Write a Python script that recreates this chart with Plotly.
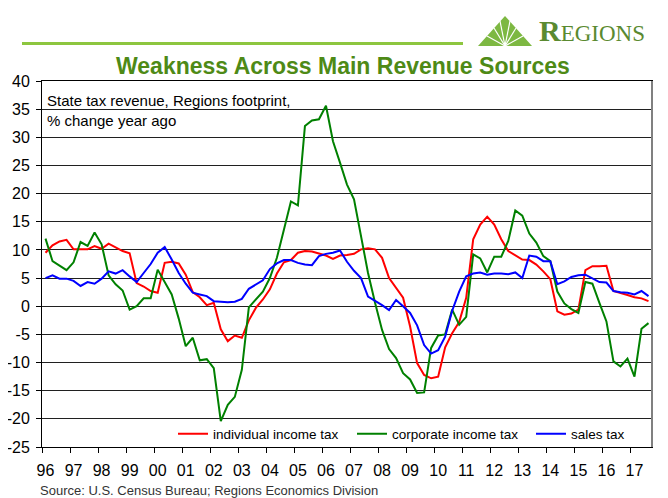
import plotly.graph_objects as go

# ---------------- data (quarterly, 1996Q1 .. 2017Q3) ----------------
year_labels = ["96", "97", "98", "99", "00", "01", "02", "03", "04", "05", "06",
               "07", "08", "09", "10", "11", "12", "13", "14", "15", "16", "17"]

y_tick_values = [-25, -20, -15, -10, -5, 0, 5, 10, 15, 20, 25, 30, 35, 40]
y_tick_labels = ["-25", "-20", "-15", "-10", "-5", "0", "5", "10", "15", "20",
                 "25", "30", "35", "40"]

individual_income_tax = [
    9.5, 10.8, 11.5, 11.8, 10.1, 10.1, 10.1, 10.7, 10.2, 11.1, 10.4, 9.8,
    9.4, 4.1, 3.5, 2.7, 2.4, 7.7, 7.9, 7.6, 5.6, 2.5, 1.6, 0.2,
    0.6, -4.1, -6.2, -5.2, -5.6, -2.5, -0.3, 1.2, 3.0, 5.8, 7.8, 8.2,
    9.5, 9.8, 9.7, 9.3, 9.0, 8.4, 9.0, 9.1, 9.3, 10.1, 10.3, 10.1,
    8.6, 5.0, 3.3, 1.5, -3.6, -10.1, -12.2, -12.8, -12.5, -7.3, -4.8, -2.8,
    1.5, 11.9, 14.5, 15.9, 14.5, 11.9, 9.8, 9.1, 8.3, 8.2, 7.4, 6.2,
    4.8, -0.9, -1.5, -1.3, -0.6, 6.4, 7.1, 7.1, 7.2, 2.7, 2.4, 2.0,
    1.6, 1.4, 0.9,
]

corporate_income_tax = [
    12.0, 8.0, 7.2, 6.4, 7.8, 11.4, 10.7, 13.1, 11.0, 5.5, 3.9, 2.8,
    -0.6, 0.0, 1.4, 1.4, 6.5, 4.2, 2.1, -2.2, -7.1, -5.6, -9.6, -9.4,
    -11.0, -20.4, -17.5, -16.1, -11.3, -0.2, 1.2, 2.6, 5.0, 8.6, 13.6, 18.6,
    17.9, 32.0, 33.0, 33.2, 35.6, 29.3, 25.5, 21.6, 19.0, 12.4, 5.9, 0.6,
    -4.2, -7.6, -9.2, -11.9, -13.0, -15.4, -15.3, -7.4, -5.2, -5.0, -0.6, -3.3,
    -1.9, 9.2, 8.5, 6.0, 8.8, 8.8, 11.6, 17.0, 16.1, 12.9, 11.3, 8.9,
    8.0, 2.6, 0.5, -0.5, -1.2, 4.3, 4.0, 0.6, -2.7, -9.8, -10.7, -9.3,
    -12.5, -4.0, -3.0,
]

sales_tax = [
    5.0, 5.5, 4.9, 4.9, 4.5, 3.6, 4.3, 4.0, 4.9, 6.2, 5.8, 6.4,
    5.3, 4.3, 5.9, 7.5, 9.5, 10.5, 8.3, 5.9, 4.0, 2.4, 2.1, 1.8,
    0.9, 0.8, 0.7, 0.8, 1.3, 3.1, 3.9, 4.6, 6.6, 7.6, 8.2, 8.2,
    7.7, 7.4, 7.3, 8.9, 9.3, 9.5, 9.9, 7.9, 6.3, 5.0, 1.7, 1.0,
    0.2, -0.7, 1.1, 0.0, -1.2, -3.4, -6.9, -8.4, -7.8, -5.4, -0.8, 2.6,
    5.3, 5.8, 6.0, 5.6, 5.8, 5.8, 5.7, 6.0, 5.0, 9.0, 8.8, 8.0,
    8.0, 3.9, 4.4, 5.2, 5.5, 5.6, 5.0, 4.3, 4.2, 2.7, 2.5, 2.4,
    2.1, 2.7, 1.8,
]

series_names = ["individual income tax", "corporate income tax", "sales tax"]
series_colors = ["#FF0000", "#008000", "#0000FF"]

# ---------------- layout helpers ----------------
# page is rendered with an 8px body margin, so the figure is shrunk by 8px
OFF = 8
W, H = 668, 498
L, R, T, B = 42, 16, 81, 51          # plot-area edges in page pixels
PW, PH = W - L - R, H - T - B


def px(xp):
    return (xp - L) / PW


def py(yp):
    return (H - B - yp) / PH


n = len(sales_tax)
x = list(range(n))

fig = go.Figure()
for name, vals, color in zip(series_names,
                             [individual_income_tax, corporate_income_tax, sales_tax],
                             series_colors):
    fig.add_trace(go.Scatter(x=x, y=vals, mode="lines", name=name,
                             line=dict(color=color, width=2)))

fig.update_layout(
    width=W - OFF, height=H - OFF,
    margin=dict(l=L - OFF, r=R, t=T - OFF, b=B, autoexpand=False),
    paper_bgcolor="white", plot_bgcolor="white",
    font=dict(family="Liberation Sans, Arial, sans-serif", color="black"),
    showlegend=True,
    legend=dict(orientation="h", x=px(173), y=py(434), xanchor="left", yanchor="middle",
                font=dict(size=13.5), bgcolor="rgba(0,0,0,0)", itemwidth=30,
                entrywidth=134, entrywidthmode="pixels", tracegroupgap=0),
)

fig.update_xaxes(
    automargin=False,
    range=[-0.5, n - 0.5],
    tickmode="array", tickvals=list(range(0, n, 4)), ticktext=year_labels,
    ticks="outside", ticklen=9, tickcolor="rgba(0,0,0,0)",
    tickfont=dict(size=16),
    showgrid=False, zeroline=False,
    showline=True, linecolor="black", linewidth=1, mirror=True,
    minor=dict(tickmode="array", tickvals=[i - 0.5 for i in range(0, n + 1, 4)],
               ticks="outside", ticklen=5, tickcolor="black", showgrid=False),
)
fig.update_yaxes(
    automargin=False,
    range=[-25, 40], tickmode="array", tickvals=y_tick_values, ticktext=y_tick_labels,
    ticks="outside", ticklen=5, tickcolor="black", ticklabelstandoff=3,
    tickfont=dict(size=16),
    showgrid=True, gridcolor="#202020", gridwidth=1, zeroline=False,
    showline=True, linecolor="black", linewidth=1, mirror=True,
)

annotations = [
    dict(x=px(343), y=py(66), xref="paper", yref="paper", xanchor="center", yanchor="middle",
         text="<b>Weakness Across Main Revenue Sources</b>", showarrow=False,
         font=dict(size=23, color="#4E8A16")),
    dict(x=px(45), y=py(90), xref="paper", yref="paper", xanchor="left", yanchor="top",
         align="left", showarrow=False,
         text="State tax revenue, Regions footprint,<br>% change year ago",
         font=dict(size=15, color="black")),
    dict(x=px(38), y=py(491), xref="paper", yref="paper", xanchor="left", yanchor="middle",
         showarrow=False, text="Source: U.S. Census Bureau; Regions Economics Division",
         font=dict(size=13, color="#333333")),
    dict(x=px(537), y=py(49), xref="paper", yref="paper", xanchor="left", yanchor="bottom",
         showarrow=False,
         text="<b>R</b><span style='font-size:23px'>EGIONS</span>",
         font=dict(size=30, color="#5A8A30", family="Liberation Serif, Times New Roman, serif")),
]
fig.update_layout(annotations=annotations)

shapes = [
    # green rule under the header
    dict(type="line", xref="paper", yref="paper", x0=px(22), x1=px(463), y0=py(43.5), y1=py(43.5),
         line=dict(color="#8DC63F", width=3)),
    # logo pyramid
    dict(type="path", xref="paper", yref="paper",
         path=f"M {px(478)},{py(46)} L {px(505)},{py(16)} L {px(532)},{py(46)} Z",
         fillcolor="#7DB842", line=dict(width=0)),
    # gray right frame
    dict(type="line", xref="paper", yref="paper", x0=1, x1=1, y0=0, y1=1,
         line=dict(color="#808080", width=2)),
]
# white fan lines in the logo
for tx, ty in [(487, 36), (494, 28), (500, 21), (510, 21), (516, 28), (523, 36)]:
    shapes.append(dict(type="line", xref="paper", yref="paper",
                       x0=px(505), y0=py(46), x1=px(tx), y1=py(ty),
                       line=dict(color="white", width=1.2)))
fig.update_layout(shapes=shapes)

fig.write_html("out.html")
